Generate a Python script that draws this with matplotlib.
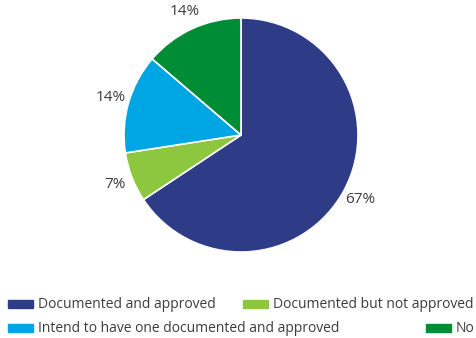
import matplotlib
matplotlib.use('Agg')
import matplotlib.pyplot as plt
from matplotlib.patches import Rectangle

# Data
categorias = ['Documented and approved', 'Documented but not approved',
              'Intend to have one documented and approved', 'No']
valores = [67, 7, 14, 14]
cores = ['#2e3b87', '#8dc63f', '#00a5e3', '#008c35']

plt.rcParams['font.family'] = ['Open Sans', 'DejaVu Sans']
cor_texto = '#3c3c3c'

fig = plt.figure(figsize=(4.77, 3.38), dpi=100)
ax = fig.add_axes([124 / 477, 86 / 338, 234 / 477, 234 / 338])

wedges, textos = ax.pie(valores, colors=cores, startangle=90, counterclock=False,
                        labels=[f'{v}%' for v in valores], labeldistance=1.16,
                        wedgeprops=dict(edgecolor='white', linewidth=1.2),
                        textprops=dict(fontsize=11, color=cor_texto))
for t in textos:
    t.set_ha('center')
    t.set_va('center')
ax.set_xlim(-1, 1)
ax.set_ylim(-1, 1)

# Legenda manual (duas linhas)
posicoes = [(8, 304), (243, 304), (8, 328), (426, 328)]
for (x, y), cor, nome in zip(posicoes, cores, categorias):
    fig.add_artist(Rectangle((x / 477, (338 - y - 4) / 338), 25 / 477, 8 / 338,
                             transform=fig.transFigure, color=cor))
    fig.text((x + 30) / 477, (338 - y) / 338, nome, fontsize=10,
             color=cor_texto, va='center', ha='left')

plt.savefig('out.png', dpi=100)
